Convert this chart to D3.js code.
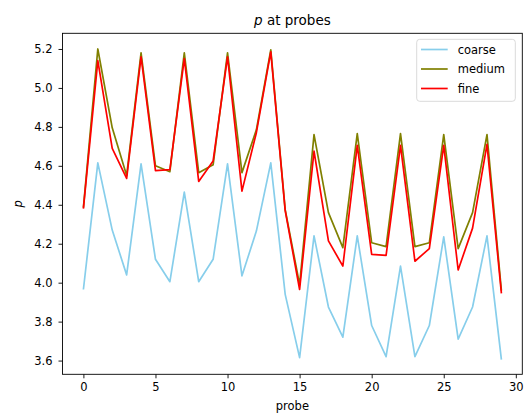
<!DOCTYPE html>
<html>
<head>
<meta charset="utf-8">
<script src="https://cdn.jsdelivr.net/npm/d3@7"></script>
<style>
  body { margin: 0; background: #fff; }
  text { font-family: "DejaVu Sans", sans-serif; fill: #000; }
</style>
</head>
<body>
<script>
var probes = d3.range(0, 30);
var coarse = [3.965, 4.615, 4.27, 4.04, 4.61, 4.12, 4.005, 4.465, 4.005, 4.12,
              4.61, 4.035, 4.265, 4.615, 3.94, 3.615, 4.24, 3.875, 3.72, 4.24,
              3.78, 3.62, 4.085, 3.62, 3.78, 4.235, 3.71, 3.875, 4.24, 3.605];
var medium = [4.385, 5.2, 4.795, 4.55, 5.18, 4.6, 4.57, 5.18, 4.565, 4.605,
              5.18, 4.565, 4.785, 5.195, 4.375, 3.99, 4.76, 4.36, 4.18, 4.765,
              4.205, 4.185, 4.765, 4.185, 4.205, 4.76, 4.175, 4.36, 4.76, 3.96];
var fine = [4.38, 5.14, 4.69, 4.535, 5.16, 4.575, 4.58, 5.15, 4.52, 4.625,
            5.16, 4.47, 4.77, 5.185, 4.37, 3.965, 4.675, 4.215, 4.085, 4.705,
            4.145, 4.14, 4.705, 4.11, 4.175, 4.705, 4.065, 4.28, 4.71, 3.945];
var seriesNames = ["coarse", "medium", "fine"];
var seriesColors = ["#87ceeb", "#808000", "#ff0000"];
var xTicks = [0, 5, 10, 15, 20, 25, 30];
var yTicks = [3.6, 3.8, 4.0, 4.2, 4.4, 4.6, 4.8, 5.0, 5.2];

var W = 527, H = 419;
// plot area edges (named so they don't clash with window.top)
var pL = 62.5, pR = 522.3, pT = 33.3, pB = 374.3;

var svg = d3.select("body").append("svg").attr("width", W).attr("height", H);

var x = d3.scaleLinear().domain([-1.45, 30.45]).range([pL, pR]);
var y = d3.scaleLinear().domain([3.5295, 5.2805]).range([pB, pT]);

// axes
var xAxis = svg.append("g")
    .attr("transform", "translate(0," + pB + ")")
    .call(d3.axisBottom(x).tickValues(xTicks).tickSize(4).tickPadding(5).tickSizeOuter(0));
var yAxis = svg.append("g")
    .attr("transform", "translate(" + pL + ",0)")
    .call(d3.axisLeft(y).tickValues(yTicks).tickFormat(d3.format(".1f")).tickSize(4).tickPadding(6).tickSizeOuter(0));

[xAxis, yAxis].forEach(function(a) {
  a.select(".domain").remove();
  a.selectAll(".tick line").attr("stroke", "#000").attr("stroke-width", 0.9);
  a.selectAll(".tick text").attr("font-size", "11.5px").attr("font-family", "DejaVu Sans").attr("fill", "#000");
});

// lines
var line = d3.line()
  .x(function(d, i) { return x(probes[i]); })
  .y(function(d) { return y(d); });

var allSeries = [coarse, medium, fine];
allSeries.forEach(function(s, k) {
  svg.append("path")
    .attr("fill", "none")
    .attr("stroke", seriesColors[k])
    .attr("stroke-width", 1.7)
    .attr("stroke-linejoin", "round")
    .attr("d", line(s));
});

// frame
svg.append("rect")
  .attr("x", pL).attr("y", pT)
  .attr("width", pR - pL).attr("height", pB - pT)
  .attr("fill", "none").attr("stroke", "#000").attr("stroke-width", 0.9);

// titles
var title = svg.append("text")
  .attr("x", (pL + pR) / 2).attr("y", 24.5)
  .attr("text-anchor", "middle").attr("font-size", "13.5px");
title.append("tspan").attr("font-style", "italic").text("p");
title.append("tspan").text(" at probes");

svg.append("text")
  .attr("x", (pL + pR) / 2).attr("y", 410)
  .attr("text-anchor", "middle").attr("font-size", "11.5px")
  .text("probe");

svg.append("text")
  .attr("transform", "translate(22," + ((pT + pB) / 2) + ") rotate(-90)")
  .attr("text-anchor", "middle").attr("font-size", "11.5px")
  .attr("font-style", "italic")
  .text("p");

// legend
var legend = svg.append("g");
legend.append("rect")
  .attr("x", 416.7).attr("y", 39.3)
  .attr("width", 98.6).attr("height", 62)
  .attr("rx", 3)
  .attr("fill", "#fff").attr("fill-opacity", 0.8)
  .attr("stroke", "#d6d6d6").attr("stroke-width", 0.9);

seriesNames.forEach(function(name, k) {
  var ly = 49.5 + k * 19.5;
  legend.append("line")
    .attr("x1", 421).attr("x2", 447.7)
    .attr("y1", ly).attr("y2", ly)
    .attr("stroke", seriesColors[k]).attr("stroke-width", 1.7);
  legend.append("text")
    .attr("x", 457.7).attr("y", ly + 4)
    .attr("font-size", "11.5px")
    .text(name);
});
</script>
</body>
</html>
